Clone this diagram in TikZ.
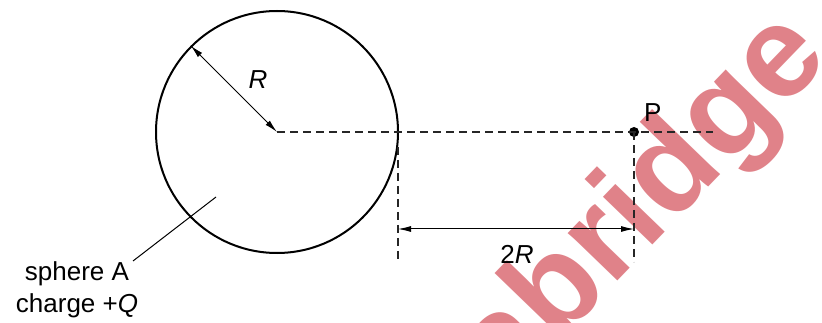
\documentclass[tikz,border=0pt]{standalone}
\usepackage{fontspec}
\setmainfont{Liberation Sans}
\usetikzlibrary{arrows.meta}
\definecolor{wmark}{RGB}{224,130,137}
\tikzset{
  lbl/.style={font=\fontsize{26}{30}\selectfont, inner sep=0pt},
  dline/.style={line width=1.4pt, dash pattern=on 8pt off 5pt, color=black!85},
  dim/.style={line width=1pt, {Latex[length=13pt,width=6pt]}-{Latex[length=13pt,width=6pt]}},
}
\begin{document}
\begin{tikzpicture}[x=1pt,y=-1pt]
\useasboundingbox (0,0) rectangle (822,323);
\clip (0,0) rectangle (822,323);
% watermark
\node[rotate=46, text=wmark, inner sep=0pt, font=\fontsize{130}{130}\selectfont\bfseries] (wm) at (645,205) {abridge};
% sphere
\coordinate (O) at (277,132);
\node[circle, draw, line width=2pt, minimum size=242pt, inner sep=0pt] (A) at (O) {};
\draw[line width=1pt, {Latex[length=13pt,width=6pt]}-{Latex[length=13pt,width=6pt]}] (A.135) -- (O);
\node[lbl, font=\fontsize{26}{30}\selectfont\itshape] (Rl) at (258,80) {R};
% dashed axis
\node[circle, fill=black, minimum size=10pt, inner sep=0pt] (P) at (634,132) {};
\coordinate (E) at (713,132);
\draw[dline] (O) -- (P.center) -- (E);
\node[lbl, anchor=south west] (Pl) at (644,122) {P};
% vertical dashed lines
\coordinate (T1) at (398,147);
\coordinate (B1) at (398,262);
\coordinate (B2) at (634,262);
\draw[dline] (T1) -- (B1);
\draw[dline] (P.center) -- (B2);
% dimension arrow
\coordinate (D1) at (398,229);
\coordinate (D2) at (634,229);
\draw[dim] (D1) -- (D2);
\node[lbl] (twoR) at (517,254) {2\textit{R}};
% label
\node[lbl, align=center] (lab) at (77,290) {sphere A\\[2pt]charge +\textit{Q}};
\coordinate (L1) at (216,197);
\coordinate (L2) at (133,261);
\draw[line width=1pt] (L2) -- (L1);
\end{tikzpicture}
\end{document}
